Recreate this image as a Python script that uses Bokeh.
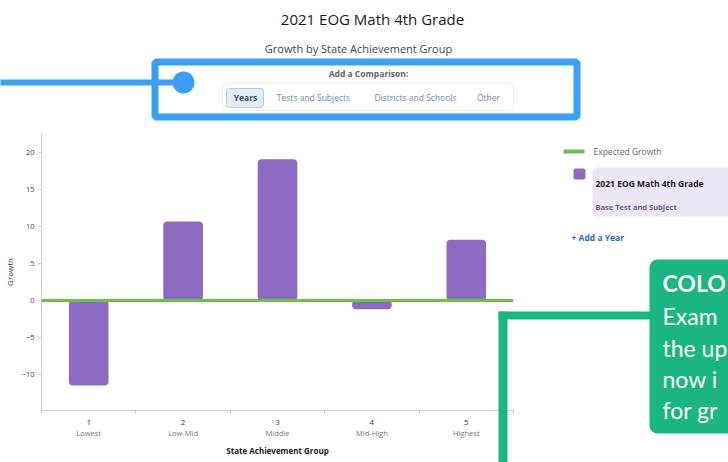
from bokeh.plotting import figure
from bokeh.layouts import column
from bokeh.models import LinearAxis, FixedTicker, Range1d, Span
from bokeh.core.properties import value
from bokeh.embed import file_html
from bokeh.resources import INLINE

# ---- data ----
groups = ["1", "2", "3", "4", "5"]
group_names = ["Lowest", "Low-Mid", "Middle", "Mid-High", "Highest"]
growth = [-11.5, 10.7, 19.1, -1.2, 8.2]
expected_growth = 0
y_ticks = [-10, -5, 0, 5, 10, 15, 20]
comparison_tabs = ["Years", "Tests and Subjects", "Districts and Schools", "Other"]
legend_items = ["Expected Growth", "2021 EOG Math 4th Grade", "Base Test and Subject", "+ Add a Year"]
note_lines = ["COLO", "Exam", "the up", "now i", "for gr"]

FONT = "Open Sans"
BAR = "#8c6cc1"
GREEN_LINE = "#6dbd4f"
BLUE = "#3a9ff5"
ANN_GREEN = "#1bb57f"
W, H = 728, 462

xs = list(range(1, len(groups) + 1))
bounds = [i + 0.5 for i in range(0, len(groups) + 1)]

# ================= chart =================
p = figure(width=W, height=H, x_range=Range1d(0.5, len(groups) + 0.5),
           y_range=Range1d(-14.9, 22.6), output_backend="svg", toolbar_location=None,
           min_border_left=40, min_border_right=215, min_border_top=133, min_border_bottom=52,
           frame_align=False)
p.outline_line_color = None
p.xgrid.visible = False
p.ygrid.visible = False

p.vbar(x=xs, top=growth, bottom=0, width=0.42, fill_color=BAR, line_color=None, border_radius=4)
p.add_layout(Span(location=expected_growth, dimension="width", line_color=GREEN_LINE, line_width=3))

ya = p.yaxis[0]
ya.ticker = FixedTicker(ticks=y_ticks, minor_ticks=[])
ya.axis_label = "Growth"
ya.axis_label_text_font = FONT
ya.axis_label_text_font_size = "8px"
ya.axis_label_text_font_style = "normal"
ya.axis_label_text_color = "#333333"
ya.axis_label_standoff = 4
ya.major_label_text_font = FONT
ya.major_label_text_font_size = "7.5px"
ya.major_label_text_color = "#444444"
ya.major_label_standoff = 4
ya.major_tick_out = 3
ya.major_tick_in = 0
ya.axis_line_color = "#cfcfcf"
ya.major_tick_line_color = "#cfcfcf"

xa = p.xaxis[0]
xa.ticker = FixedTicker(ticks=xs, minor_ticks=bounds)
xa.major_label_overrides = {x: g for x, g in zip(xs, groups)}
xa.major_tick_out = 0
xa.major_tick_in = 0
xa.minor_tick_out = 3
xa.minor_tick_in = 0
xa.major_tick_line_color = None
xa.minor_tick_line_color = "#c8c8c8"
xa.axis_line_color = "#cfcfcf"
xa.major_label_standoff = 6
xa.major_label_text_font = FONT
xa.major_label_text_font_size = "8px"
xa.major_label_text_color = "#333333"

xa2 = LinearAxis(ticker=FixedTicker(ticks=xs, minor_ticks=[]),
                 major_label_overrides={x: n for x, n in zip(xs, group_names)},
                 axis_line_color=None, major_tick_line_color=None, minor_tick_line_color=None,
                 major_tick_out=0, major_tick_in=0, major_label_standoff=0,
                 major_label_text_font=FONT, major_label_text_font_size="7.5px",
                 major_label_text_color="#777777",
                 axis_label="State Achievement Group", axis_label_standoff=4,
                 axis_label_text_font=FONT, axis_label_text_font_size="8px",
                 axis_label_text_font_style="bold", axis_label_text_color="#222222")
p.add_layout(xa2, "below")

# ================= overlay (pixel space, y downward) =================
o = figure(width=W, height=H, x_range=Range1d(0, W), y_range=Range1d(H, 0),
           output_backend="svg", toolbar_location=None, x_axis_type=None, y_axis_type=None,
           min_border=0, margin=(-H, 0, 0, 0), frame_align=False)
o.outline_line_color = None
o.xgrid.visible = False
o.ygrid.visible = False
o.background_fill_alpha = 0
o.border_fill_alpha = 0


def box(l, r, t, b, fill=None, line=None, lw=1, radius=0):
    o.quad(left=[l], right=[r], top=[t], bottom=[b],
           fill_color=fill if fill else "white", fill_alpha=1 if fill else 0,
           line_color=line if line else "white", line_alpha=1 if line else 0,
           line_width=lw, border_radius=int(radius))


def text(x, y, t, size, color, style="normal", align="left", font=FONT):
    o.text(x=[x], y=[y], text=[t], text_font=value(font), text_font_size=value(size),
           text_color=color, text_font_style=style, text_align=align, text_baseline="middle")


# titles
text(372, 18, "2021 EOG Math 4th Grade", "15px", "#1a1a1a", align="center")
text(358, 48, "Growth by State Achievement Group", "11px", "#444444", align="center")

# comparison selector
box(-10, 183, 79, 85, fill=BLUE)
o.circle(x=[183], y=[82], radius=11, fill_color=BLUE, line_color=None)
box(154.5, 576.5, 61.5, 116.5, line=BLUE, lw=7)
text(368, 73, "Add a Comparison:", "8.5px", "#666666", style="bold", align="center")
box(222, 513, 83, 110, fill="white", line="#eef0f4", lw=1, radius=4)
box(226, 263, 88, 107, fill="#e3ecf7", line="#b7c9e0", lw=1, radius=3)
tab_x = [245, 313, 415, 488]
for i, (tx, t) in enumerate(zip(tab_x, comparison_tabs)):
    text(tx, 97, t, "8.5px", "#355070" if i == 0 else "#7487a0",
         style="bold" if i == 0 else "normal", align="center")

# legend
box(563, 584, 149, 153, fill=GREEN_LINE)
text(593, 151, legend_items[0], "8.5px", "#666666")
box(573, 585, 168, 179, fill=BAR, radius=2)
box(592, 740, 167, 216, fill="#ece6f6", radius=5)
text(595, 183, legend_items[1], "8.5px", "#222222", style="bold")
text(595, 206, legend_items[2], "7.5px", "#6a5a99", style="bold")
text(571, 237, legend_items[3], "8.5px", "#2b6cb0", style="bold")

# green annotation
box(498, 650, 311, 319, fill=ANN_GREEN)
box(498, 507, 311, 480, fill=ANN_GREEN)
box(649, 790, 259, 433, fill=ANN_GREEN, radius=8)
note_y = [282, 315, 347, 378, 409]
for i, (ly, t) in enumerate(zip(note_y, note_lines)):
    text(662, ly, t, "23px", "white", style="bold" if i == 0 else "normal", font="Lato")

layout = column(p, o, spacing=0)
open("out.html", "w").write(file_html(layout, INLINE))
